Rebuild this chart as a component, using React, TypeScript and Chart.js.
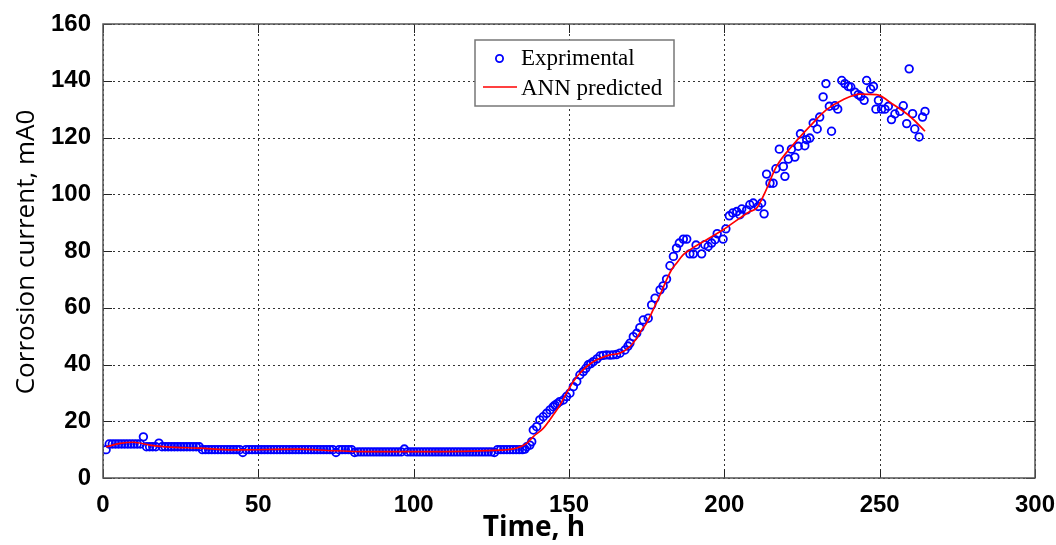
import React, { useEffect, useRef } from "react";
import { Chart, registerables } from "chart.js";

Chart.register(...registerables);

// ---------- data ----------
const xTicksMax = 300;
const yTicksMax = 160;

// experimental: flat part, one reading per hour (1..135)
const flatHours: number[] = [
  1, 2, 3, 4, 5, 6, 7, 8, 9, 10, 11, 12, 13, 14, 15, 16, 17, 18, 19, 20,
  21, 22, 23, 24, 25, 26, 27, 28, 29, 30, 31, 32, 33, 34, 35, 36, 37, 38, 39, 40,
  41, 42, 43, 44, 45, 46, 47, 48, 49, 50, 51, 52, 53, 54, 55, 56, 57, 58, 59, 60,
  61, 62, 63, 64, 65, 66, 67, 68, 69, 70, 71, 72, 73, 74, 75, 76, 77, 78, 79, 80,
  81, 82, 83, 84, 85, 86, 87, 88, 89, 90, 91, 92, 93, 94, 95, 96, 97, 98, 99, 100,
  101, 102, 103, 104, 105, 106, 107, 108, 109, 110, 111, 112, 113, 114, 115, 116, 117, 118, 119, 120,
  121, 122, 123, 124, 125, 126, 127, 128, 129, 130, 131, 132, 133, 134, 135,
];
const flatCurrent: number[] = [
  10, 12, 12, 12, 12, 12, 12, 12, 12, 12, 12, 12, 14.5, 11, 11, 11, 11, 12.3, 11, 11,
  11, 11, 11, 11, 11, 11, 11, 11, 11, 11, 11, 10, 10, 10, 10, 10, 10, 10, 10, 10,
  10, 10, 10, 10, 9, 10, 10, 10, 10, 10, 10, 10, 10, 10, 10, 10, 10, 10, 10, 10,
  10, 10, 10, 10, 10, 10, 10, 10, 10, 10, 10, 10, 10, 10, 9, 10, 10, 10, 10, 10,
  9, 9.2, 9.2, 9.2, 9.2, 9.2, 9.2, 9.2, 9.2, 9.2, 9.2, 9.2, 9.2, 9.2, 9.2, 9.2, 10.2, 9.2, 9.2, 9.2,
  9.2, 9.2, 9.2, 9.2, 9.2, 9.2, 9.2, 9.2, 9.2, 9.2, 9.2, 9.2, 9.2, 9.2, 9.2, 9.2, 9.2, 9.2, 9.2, 9.2,
  9.2, 9.2, 9.2, 9.2, 9.2, 9, 10, 10, 10, 10, 10, 10, 10, 10, 10,
];

// experimental: rising / scattered part
const riseHours: number[] = [
  135.8, 136.4, 137.4, 138, 138.5, 139.6, 140.6, 141.7, 142.8, 143.9, 144.9, 145.5, 146.2, 147, 148.2,
  149.2, 150.3, 151.4, 152.5, 153.5, 154.6, 155.4, 156.2, 157, 157.8, 159, 160, 161, 162.1, 163.2,
  164.2, 165.3, 166.4, 168, 169, 169.6, 170.7, 171.8, 172.8, 173.9, 175.5, 176.6, 177.7, 179.3, 180.3,
  181.4, 182.5, 183.6, 184.6, 185.5, 186.8, 187.9, 188.9, 190, 190.9, 192.7, 193.7, 194.8, 195.9, 197,
  197.7, 199.6, 200.5, 201.6, 202.7, 204, 205, 205.6, 207.2, 208.2, 209.3, 210.9, 212, 212.8, 213.6,
  214.7, 215.7, 216.6, 217.7, 219, 219.5, 220.6, 221.6, 222.7, 223.8, 224.5, 225.9, 226.5, 227.5, 228.6,
  229.9, 230.7, 231.8, 232.7, 233.8, 234.5, 235.6, 236.5, 237.8, 238.8, 239.9, 240.7, 242, 243.1, 243.9,
  245, 245.8, 247.1, 248, 248.8, 249.6, 250.6, 251.7, 252.8, 253.8, 254.9, 256.5, 257.6, 258.7, 259.5,
  260.6, 261.3, 262.7, 263.8, 264.6,
];
const riseCurrent: number[] = [
  10.2, 11, 11.6, 12.8, 16.9, 18.1, 20.5, 21.6, 22.8, 24, 25.1, 25.7, 26.2, 26.9, 27.5,
  28.7, 29.9, 32.2, 34, 36.3, 37.5, 38.6, 39.9, 40.3, 41, 42, 43, 43.2, 43.4, 43.3,
  43.4, 43.5, 44, 45.1, 46.5, 47.5, 49.8, 51, 53, 55.7, 56.3, 61, 63.4, 66.3, 67.7,
  70.1, 74.8, 78.1, 81, 82.8, 84.2, 84.2, 79, 79, 82.1, 79, 82.2, 81.6, 82.8, 84,
  86.1, 84.2, 87.8, 92.4, 93.4, 93.9, 92.8, 94.8, 94.5, 96.3, 96.9, 95.7, 96.9, 93.1, 107.1,
  103.9, 103.9, 109, 115.9, 109.8, 106.3, 112.4, 115.9, 113.1, 116.9, 121.3, 117.1, 119.2, 119.8, 125.1,
  123, 127.2, 134.3, 139, 131, 122.2, 131.2, 130, 140.1, 139, 138, 137.8, 136, 135.1, 134.5,
  133.1, 140.1, 137.1, 138, 130, 133.1, 130, 130, 131, 126.3, 128.3, 129.2, 131.2, 124.9, 144.2,
  128.4, 123, 120.2, 127.2, 129.2,
];

// ANN predicted curve
const annHours: number[] = [
  1, 5.5, 9.8, 15, 20.5, 31, 42, 63, 74, 85, 106, 127.8, 133, 136.4, 138.5, 141.7, 144.9, 147.1,
  149.2, 151.4, 153.5, 155.7, 157.8, 160, 163.2, 166.4, 169.6, 171.8, 173.4, 175, 177.1, 179.3,
  181.4, 183, 184.6, 186.8, 188.9, 194.3, 199.6, 205, 208.2, 210.4, 211.7, 213, 216.8, 222.2,
  227.5, 232.9, 238.2, 243.6, 249, 254.4, 259.8, 264.6,
];
const annCurrent: number[] = [
  11, 12.2, 12.6, 11.6, 11, 10.5, 9.9, 10.2, 9.6, 9.3, 9.3, 9.8, 10.5, 12.2, 14.6, 17.5, 22.2, 25.7,
  29.9, 34, 36.9, 39.3, 41, 42.2, 43.4, 44, 46.3, 49.3, 52.2, 54.6, 59.3, 64.5,
  69.8, 73.4, 75.7, 78.7, 80.4, 84, 87.5, 91.6, 93.9, 95.1, 97.5, 100.4, 109.8, 117.5,
  123.9, 129.8, 133.3, 135.3, 135.1, 131.6, 127.4, 122.2,
];

const seriesLabels = ["Exprimental", "ANN predicted"];
const xTitle = "Time, h";
const yTitle = "Corrosion current, mA0";

const BLUE = "#0000ff";
const RED = "#ff0000";

const decorPlugin = {
  id: "decor",
  beforeDatasetsDraw(chart: any) {
    const { ctx, chartArea } = chart;
    const { left, right, top, bottom } = chartArea;
    const xs = chart.scales.x;
    const ys = chart.scales.y;
    ctx.save();
    ctx.strokeStyle = "#333";
    ctx.lineWidth = 1;
    ctx.setLineDash([2, 3]);
    xs.ticks.forEach((t: any) => {
      const px = Math.round(xs.getPixelForValue(t.value)) + 0.5;
      ctx.beginPath();
      ctx.moveTo(px, top);
      ctx.lineTo(px, bottom);
      ctx.stroke();
    });
    ys.ticks.forEach((t: any) => {
      const py = Math.round(ys.getPixelForValue(t.value)) + 0.5;
      ctx.beginPath();
      ctx.moveTo(left, py);
      ctx.lineTo(right, py);
      ctx.stroke();
    });
    ctx.restore();
  },
  afterDatasetsDraw(chart: any) {
    const { ctx, chartArea } = chart;
    const { left, right, top, bottom } = chartArea;
    const xs = chart.scales.x;
    const ys = chart.scales.y;
    ctx.save();
    ctx.setLineDash([]);
    // inward ticks
    ctx.strokeStyle = "#222";
    ctx.lineWidth = 1;
    const tl = 9;
    xs.ticks.forEach((t: any) => {
      const px = Math.round(xs.getPixelForValue(t.value)) + 0.5;
      ctx.beginPath();
      ctx.moveTo(px, bottom);
      ctx.lineTo(px, bottom - tl);
      ctx.moveTo(px, top);
      ctx.lineTo(px, top + tl);
      ctx.stroke();
    });
    ys.ticks.forEach((t: any) => {
      const py = Math.round(ys.getPixelForValue(t.value)) + 0.5;
      ctx.beginPath();
      ctx.moveTo(left, py);
      ctx.lineTo(left + tl, py);
      ctx.moveTo(right, py);
      ctx.lineTo(right - tl, py);
      ctx.stroke();
    });
    // box
    ctx.lineWidth = 1.5;
    ctx.strokeStyle = "#555";
    ctx.strokeRect(left, top, right - left, bottom - top);

    // legend
    const lx = 475, ly = 40, lw = 199, lh = 66;
    ctx.fillStyle = "#fff";
    ctx.fillRect(lx, ly, lw, lh);
    ctx.lineWidth = 1.5;
    ctx.strokeStyle = "#777";
    ctx.strokeRect(lx, ly, lw, lh);
    ctx.font = '23px "Liberation Serif"';
    ctx.fillStyle = "#000";
    ctx.textBaseline = "middle";
    ctx.textAlign = "left";
    ctx.beginPath();
    ctx.arc(499.5, 58.5, 3.6, 0, Math.PI * 2);
    ctx.strokeStyle = BLUE;
    ctx.lineWidth = 1.8;
    ctx.stroke();
    ctx.fillText(seriesLabels[0], 521, 59);
    ctx.beginPath();
    ctx.moveTo(483, 87);
    ctx.lineTo(517, 87);
    ctx.strokeStyle = RED;
    ctx.lineWidth = 1.6;
    ctx.stroke();
    ctx.fillText(seriesLabels[1], 521, 89);

    // axis titles
    ctx.fillStyle = "#000";
    ctx.textAlign = "center";
    ctx.font = 'bold 28px "Open Sans"';
    ctx.fillText(xTitle, 534, 528);
    ctx.save();
    ctx.translate(27, 252);
    ctx.rotate(-Math.PI / 2);
    ctx.font = '26px "Open Sans"';
    ctx.fillText(yTitle, 0, 0);
    ctx.restore();
    ctx.restore();
  },
};

export default function App() {
  const ref = useRef<HTMLCanvasElement | null>(null);
  useEffect(() => {
    document.body.style.margin = "0";
    const expPoints = [
      ...flatHours.map((h, i) => ({ x: h, y: flatCurrent[i] })),
      ...riseHours.map((h, i) => ({ x: h, y: riseCurrent[i] })),
    ];
    const annPoints = annHours.map((h, i) => ({ x: h, y: annCurrent[i] }));
    const chart = new Chart(ref.current as HTMLCanvasElement, {
      type: "scatter",
      data: {
        datasets: [
          {
            label: seriesLabels[0],
            data: expPoints,
            showLine: false,
            pointStyle: "circle",
            pointRadius: 3.8,
            pointBorderWidth: 1.8,
            pointBorderColor: BLUE,
            pointBackgroundColor: "rgba(0,0,0,0)",
            order: 2,
          },
          {
            label: seriesLabels[1],
            data: annPoints,
            showLine: true,
            borderColor: RED,
            borderWidth: 1.7,
            pointRadius: 0,
            cubicInterpolationMode: "monotone",
            order: 1,
          } as any,
        ],
      },
      options: {
        animation: false,
        responsive: true,
        maintainAspectRatio: false,
        layout: { padding: { left: 0, right: 21, top: 24, bottom: 0 } },
        plugins: { legend: { display: false }, tooltip: { enabled: false } },
        scales: {
          x: {
            type: "linear",
            min: 0,
            max: xTicksMax,
            grid: { display: false },
            border: { display: false },
            ticks: {
              stepSize: 50,
              padding: 5,
              color: "#000",
              font: { family: '"Liberation Sans"', size: 24, weight: "bold" },
              maxRotation: 0,
            },
            afterFit: (s: any) => {
              s.height = 67;
              s.paddingLeft = 0;
              s.paddingRight = 0;
            },
          },
          y: {
            type: "linear",
            min: 0,
            max: yTicksMax,
            grid: { display: false },
            border: { display: false },
            ticks: {
              stepSize: 20,
              padding: 4,
              color: "#000",
              font: { family: '"Liberation Sans"', size: 24, weight: "bold" },
            },
            afterFit: (s: any) => {
              s.width = 103;
              s.paddingTop = 0;
              s.paddingBottom = 0;
            },
          },
        },
      },
      plugins: [decorPlugin],
    });
    return () => chart.destroy();
  }, []);
  return (
    <div style={{ width: 1056, height: 545, position: "relative", background: "#fff" }}>
      <canvas ref={ref} />
    </div>
  );
}
